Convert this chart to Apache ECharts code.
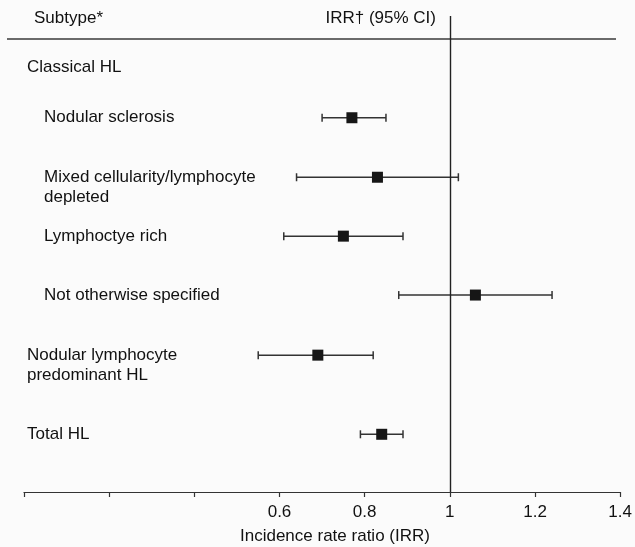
<!DOCTYPE html>
<html>
<head>
<meta charset="utf-8">
<script src="https://cdn.jsdelivr.net/npm/echarts@6/dist/echarts.min.js"></script>
<style>
  html, body { margin: 0; padding: 0; background: #fff; }
  #chart { width: 635px; height: 547px; }
</style>
</head>
<body>
<div id="chart"></div>
<script>
// rows of the forest plot (top to bottom)
const categories = [
  'Classical HL',
  'Nodular sclerosis',
  'Mixed cellularity/lymphocyte\ndepleted',
  'Lymphoctye rich',
  'Not otherwise specified',
  'Nodular lymphocyte\npredominant HL',
  'Total HL'
];
const indentLevel = [0, 1, 1, 1, 1, 0, 0];
// IRR with 95% CI, null for heading rows
const irr = [null, 0.77, 0.83, 0.75, 1.06, 0.69, 0.84];
const ciLow = [null, 0.70, 0.64, 0.61, 0.88, 0.55, 0.79];
const ciHigh = [null, 0.85, 1.02, 0.89, 1.24, 0.82, 0.89];
// vertical slot of each row on the hidden y axis
const rowPos = [0.87, 1.71, 2.71, 3.70, 4.69, 5.70, 7.03];
const shownTicks = [0.6, 0.8, 1, 1.2, 1.4];

const FONT = "'Liberation Sans', Arial, sans-serif";
const TXT = '#111';
const FS = 17;

const chart = echarts.init(document.getElementById('chart'));

const pointData = [];
const ciData = [];
irr.forEach((v, i) => {
  if (v == null) return;
  pointData.push([v, rowPos[i]]);
  ciData.push([ciLow[i], ciHigh[i], rowPos[i]]);
});

// one invisible point per row carrying the subtype text, indented by level
const labelData = categories.map((c, i) => ({
  value: [0, rowPos[i]],
  name: c,
  label: { offset: [indentLevel[i] ? 20 : 3, -10] }
}));

const option = {
  backgroundColor: '#fbfbfb',
  animation: false,
  grid: { left: 24, right: 11, top: 16, bottom: 55 },
  xAxis: {
    type: 'value',
    position: 'bottom',
    min: 0,
    max: 1.4,
    interval: 0.2,
    splitLine: { show: false },
    axisLine: { onZero: false, lineStyle: { color: '#333', width: 1.2 } },
    axisTick: { length: 5, lineStyle: { color: '#333', width: 1.2 } },
    axisLabel: {
      margin: 12,
      color: TXT,
      fontFamily: FONT,
      fontSize: FS,
      formatter: v => shownTicks.some(t => Math.abs(t - v) < 1e-6) ? String(+v.toFixed(1)) : ''
    }
  },
  yAxis: {
    type: 'value',
    min: 0,
    max: 8,
    inverse: true,
    show: false
  },
  graphic: [
    {
      type: 'line',
      shape: { x1: 7, y1: 39, x2: 616, y2: 39 },
      style: { stroke: '#6a6a6a', lineWidth: 2 }
    },
    {
      type: 'text', left: 34, top: 10,
      style: { text: 'Subtype*', fill: TXT, font: FS + 'px ' + FONT }
    },
    {
      type: 'text', right: 635 - 436, top: 10,
      style: { text: 'IRR\u2020 (95% CI)', fill: TXT, font: FS + 'px ' + FONT }
    },
    {
      type: 'text', left: 240, top: 528,
      style: { text: 'Incidence rate ratio (IRR)', fill: TXT, font: FS + 'px ' + FONT }
    }
  ],
  series: [
    {
      type: 'scatter',
      data: labelData,
      symbolSize: 0,
      silent: true,
      itemStyle: { opacity: 1 },
      label: {
        show: true,
        position: 'right',
        distance: 0,
        verticalAlign: 'top',
        lineHeight: 20,
        color: TXT,
        fontFamily: FONT,
        fontSize: FS,
        formatter: p => p.name
      },
      markLine: {
        silent: true,
        symbol: 'none',
        label: { show: false },
        lineStyle: { color: '#222', width: 1.4, type: 'solid' },
        data: [{ xAxis: 1 }]
      }
    },
    {
      type: 'custom',
      data: ciData,
      renderItem: (params, api) => {
        const a = api.coord([api.value(0), api.value(2)]);
        const b = api.coord([api.value(1), api.value(2)]);
        const st = { stroke: '#333', lineWidth: 1.5 };
        return {
          type: 'group',
          children: [
            { type: 'line', shape: { x1: a[0], y1: a[1], x2: b[0], y2: b[1] }, style: st },
            { type: 'line', shape: { x1: a[0], y1: a[1] - 4, x2: a[0], y2: a[1] + 4 }, style: st },
            { type: 'line', shape: { x1: b[0], y1: b[1] - 4, x2: b[0], y2: b[1] + 4 }, style: st }
          ]
        };
      }
    },
    {
      type: 'scatter',
      data: pointData,
      symbol: 'rect',
      symbolSize: 11,
      itemStyle: { color: '#161616', opacity: 1 },
      z: 5
    }
  ]
};

chart.setOption(option);
window.addEventListener('resize', () => chart.resize());
</script>
</body>
</html>
